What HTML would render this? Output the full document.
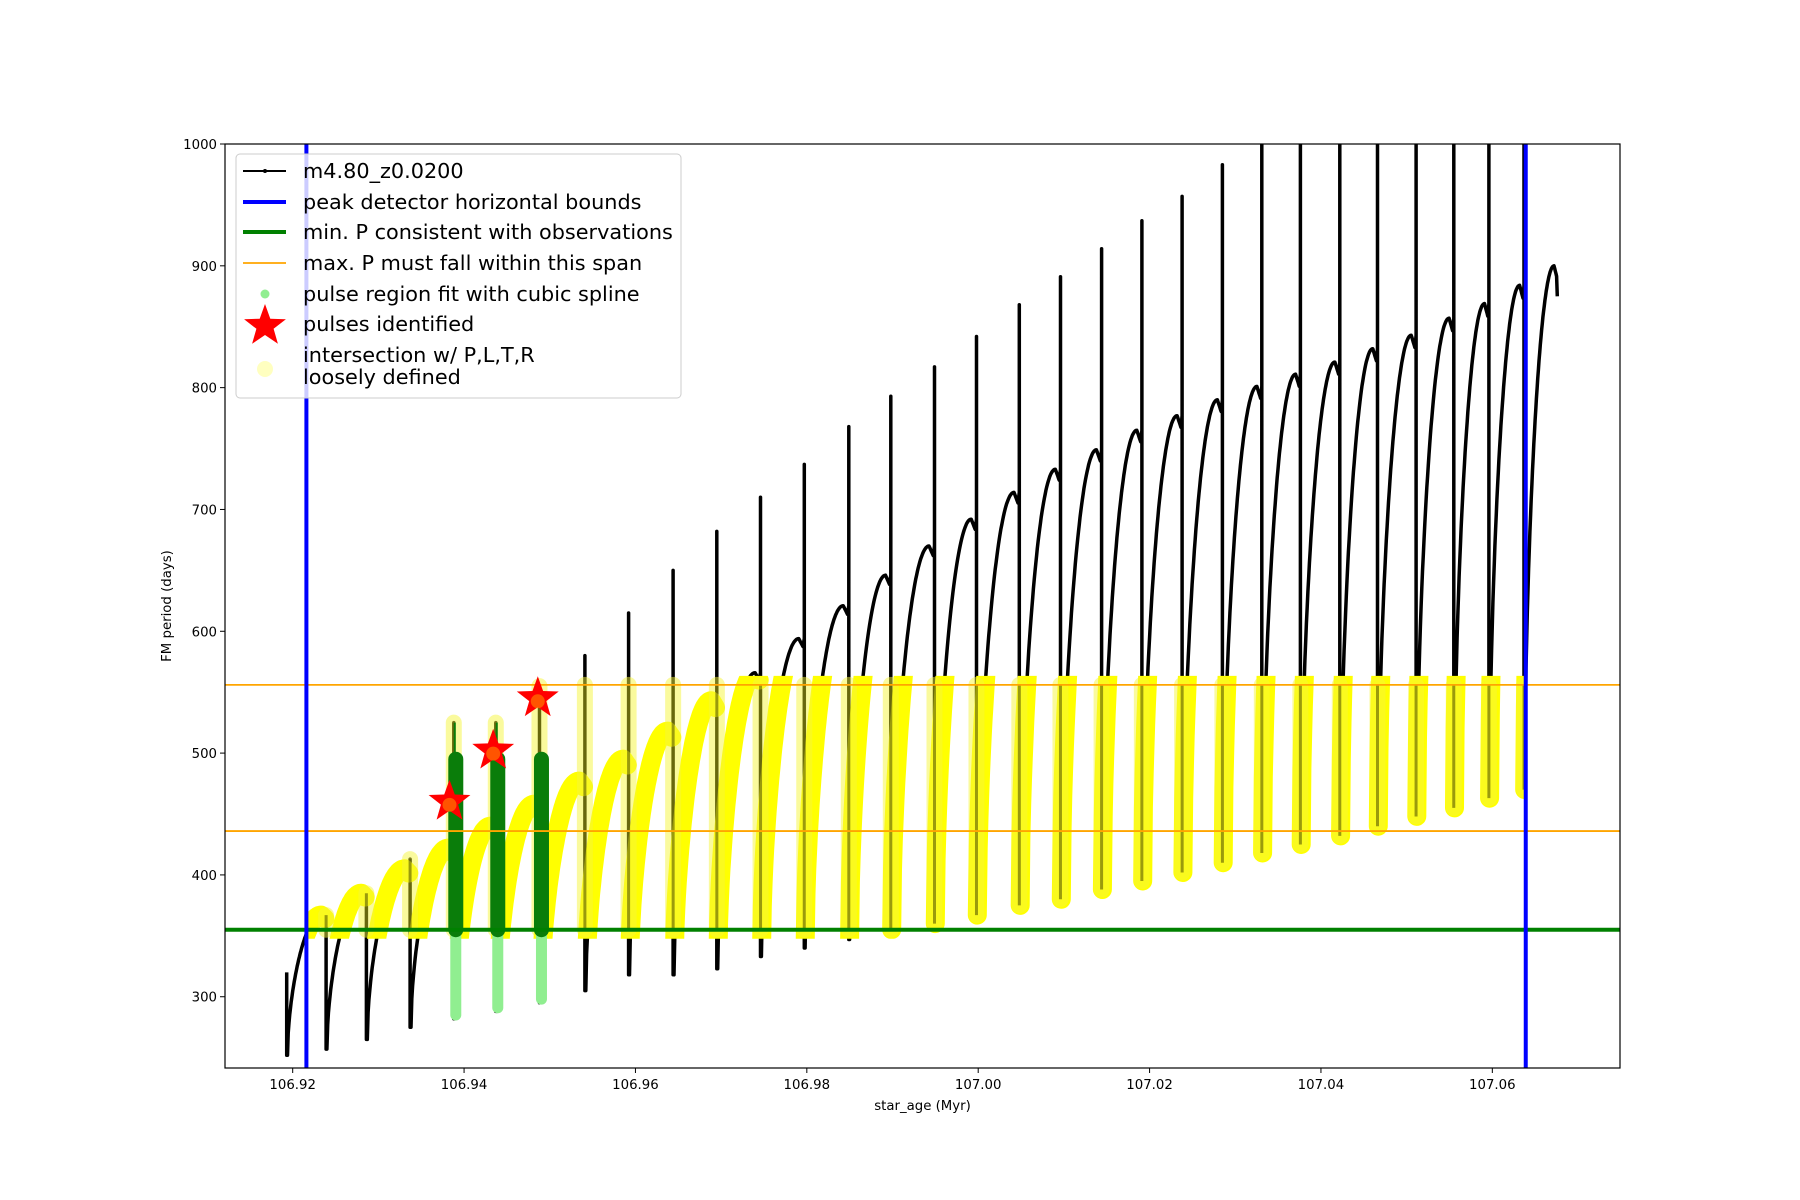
<!DOCTYPE html>
<html><head><meta charset="utf-8"><style>
html,body{margin:0;padding:0;background:#fff;}
svg{display:block;font-family:"DejaVu Sans","Liberation Sans",sans-serif;}
</style></head><body>
<svg id="chart" width="1800" height="1200" viewBox="0 0 1800 1200" xmlns="http://www.w3.org/2000/svg">
<defs><clipPath id="plotclip"><rect x="225" y="144" width="1395" height="924"/></clipPath>
<clipPath id="bandclip"><rect id="bandrect" x="0" y="0" width="0" height="0"/></clipPath></defs>
<rect x="0" y="0" width="1800" height="1200" fill="#fff"/>
<g id="plot" clip-path="url(#plotclip)"></g>
<g id="axes"></g>
<g id="legend"></g>
</svg>
<script>
const pulseAge=[106.9193,106.9239,106.9286,106.9337,106.9388,106.9437,106.9488,106.9541,106.9592,106.9644,106.9695,106.9746,106.9797,106.9849,106.9898,106.9949,106.9998,107.0048,107.0096,107.0144,107.0191,107.0238,107.0285,107.0331,107.0376,107.0422,107.0466,107.0511,107.0555,107.0596,107.0637];
const minP=[252,257,265,275,282,288,295,305,318,318,323,333,340,347,355,360,367,375,380,388,395,402,410,418,425,432,440,448,455,463,470];
const topP=[320,367,385,413,525,525,555,580,615,650,682,710,737,768,793,817,842,868,891,914,937,957,983,1100,1100,1100,1100,1100,1100,1100,1100];
const peakP=[367,385,405,422,440,458,477,495,518,543,566,594,621,646,670,692,714,733,749,765,777,790,801,811,821,832,843,857,869,884,900];
const endAge=107.0677;
const endP=875;
const greenPulses=[4,5,6];
const greenTop=[495,495,495];
const starAge=[106.9383,106.9434,106.9486];
const starP=[460,502,545];
const minBound=355;
const maxSpan=[436,556];
const bounds=[106.9216,107.0639];
const xTicks=[106.92,106.94,106.96,106.98,107.00,107.02,107.04,107.06];
const xTickLabels=["106.92","106.94","106.96","106.98","107.00","107.02","107.04","107.06"];
const yTicks=[300,400,500,600,700,800,900,1000];

const X0=106.9121,X1=107.0749,Y0=241.5,Y1=1000;
const L=225,R=1620,T=144,B=1068;
function X(t){return L+(t-X0)/(X1-X0)*(R-L);}
function Y(p){return B-(p-Y0)/(Y1-Y0)*(B-T);}
const NS="http://www.w3.org/2000/svg";
function mk(tag,attrs,parent){const e=document.createElementNS(NS,tag);for(const k in attrs)e.setAttribute(k,attrs[k]);parent.appendChild(e);return e;}
const plot=document.getElementById('plot'),axes=document.getElementById('axes'),legend=document.getElementById('legend');

function riseCurve(i){
  const t0=pulseAge[i], t1=(i+1<pulseAge.length)?pulseAge[i+1]:endAge;
  const pts=[];const n=50;
  for(let k=0;k<=n;k++){const u=k/n;
    let f;if(u<0.9)f=Math.pow(Math.sin(Math.PI/2*u/0.9),0.55);else f=1-(u-0.9)*0.25;
    let p=minP[i]+(peakP[i]-minP[i])*f;
    if(i===pulseAge.length-1&&k===n)p=endP;
    pts.push([X(t0+(t1-t0)*(0.02+u*0.95)),Y(p)]);}
  return pts;
}
let blackD='';
for(let i=0;i<pulseAge.length;i++){
  const x=X(pulseAge[i]);
  const prev=i>0?peakP[i-1]:topP[0];
  blackD+=(i===0?'M':'L')+x.toFixed(1)+','+Y(prev).toFixed(1)+' L'+x.toFixed(1)+','+Y(topP[i]).toFixed(1)+' L'+x.toFixed(1)+','+Y(minP[i]).toFixed(1);
  riseCurve(i).forEach(p=>{blackD+=' L'+p[0].toFixed(1)+','+p[1].toFixed(1);});
}
const bp=mk('path',{d:blackD,fill:'none',stroke:'#000','stroke-width':3.5,'stroke-linejoin':'round'},plot);



const br=document.getElementById('bandrect');
br.setAttribute('x',X(bounds[0]));br.setAttribute('width',X(bounds[1])-X(bounds[0]));
br.setAttribute('y',Y(maxSpan[1])-9);br.setAttribute('height',Y(minBound)-Y(maxSpan[1])+18);
const yg=mk('g',{'clip-path':'url(#bandclip)'},plot);


let yD='';
for(let i=0;i<pulseAge.length;i++){const pts=riseCurve(i);yD+='M'+pts.map(p=>p[0].toFixed(1)+','+p[1].toFixed(1)).join(' L');}
const yp=mk('path',{d:yD,fill:'none',stroke:'#ffff00','stroke-width':19,'stroke-linejoin':'round','stroke-linecap':'round'},yg);


for(let i=0;i<pulseAge.length;i++){
  const x=X(pulseAge[i]);
  const ln=mk('line',{x1:x,x2:x,y1:Y(Math.min(topP[i],maxSpan[1])),y2:Y(Math.max(minP[i],minBound)),stroke:'rgba(245,245,60,0.5)','stroke-width':16,'stroke-linecap':'round'},yg);
  
  
  const sl=mk('line',{x1:x,x2:x,y1:Y(Math.min(topP[i],maxSpan[1])),y2:Y(Math.max(minP[i],minBound)),stroke:'rgba(90,90,0,0.6)','stroke-width':3},yg);
  
  
}
greenPulses.forEach((i,j)=>{
  const x=X(pulseAge[i])+2;
  const lg=mk('line',{x1:x,x2:x,y1:Y(minBound),y2:Y(minP[i]+3),stroke:'#90ee90','stroke-width':11,'stroke-linecap':'round'},plot);
  
  
  const dg=mk('line',{x1:x,x2:x,y1:Y(greenTop[j]),y2:Y(minBound),stroke:'#0a7d0a','stroke-width':15,'stroke-linecap':'round'},plot);
  
  
  if(j<2){const sp=mk('line',{x1:x-1,x2:x-1,y1:Y(525),y2:Y(greenTop[j]),stroke:'#0a7d0a','stroke-width':2},plot);
    
    }
});
const gl=mk('line',{x1:L,x2:R,y1:Y(minBound),y2:Y(minBound),stroke:'#008000','stroke-width':4},plot);


maxSpan.forEach((v,k)=>{const o=mk('line',{x1:L,x2:R,y1:Y(v),y2:Y(v),stroke:'#ffa500','stroke-width':1.8},plot);
  
  });
bounds.forEach((v,k)=>{const b=mk('line',{x1:X(v),x2:X(v),y1:T,y2:B,stroke:'#0000ff','stroke-width':4},plot);
  
  });
function starPath(cx,cy,ro,ri){let d='';for(let k=0;k<10;k++){const r=k%2?ri:ro;const a=-Math.PI/2+k*Math.PI/5;d+=(k?'L':'M')+(cx+r*Math.cos(a)).toFixed(1)+','+(cy+r*Math.sin(a)).toFixed(1);}return d+'Z';}
starAge.forEach((t,k)=>{const s=mk('path',{d:starPath(X(t),Y(starP[k]),22,9),fill:'#ff0000'},plot);
  
  
  const c=mk('circle',{cx:X(t),cy:Y(starP[k])+3,r:7,fill:'rgba(255,140,0,0.6)'},plot);
  
  });
const fr=mk('rect',{x:L,y:T,width:R-L,height:B-T,fill:'none',stroke:'#000','stroke-width':1.2},axes);


xTicks.forEach((v,k)=>{const x=X(v);
  mk('line',{x1:x,x2:x,y1:B,y2:B+5,stroke:'#000','stroke-width':1},axes);
  const tx=mk('text',{x:x,y:B+21,'font-size':13.3,'text-anchor':'middle',fill:'#000'},axes);tx.textContent=xTickLabels[k];
  
  });
yTicks.forEach(v=>{const y=Y(v);
  mk('line',{x1:L-5,x2:L,y1:y,y2:y,stroke:'#000','stroke-width':1},axes);
  const tx=mk('text',{x:L-8,y:y+5,'font-size':13.3,'text-anchor':'end',fill:'#000'},axes);tx.textContent=String(v);
  
  });
const xl=mk('text',{x:(L+R)/2,y:1110,'font-size':13.3,'text-anchor':'middle'},axes);xl.textContent='star_age (Myr)';


const yl=mk('text',{x:0,y:0,'font-size':13.3,'text-anchor':'middle',transform:'translate(171,606) rotate(-90)'},axes);yl.textContent='FM period (days)';


const lb=mk('rect',{x:236,y:154,width:445,height:244,rx:4,fill:'rgba(255,255,255,0.8)',stroke:'#ccc','stroke-width':1},legend);


const rows=[['m4.80_z0.0200',171],['peak detector horizontal bounds',202],['min. P consistent with observations',232],['max. P must fall within this span',263],['pulse region fit with cubic spline',294],['pulses identified',324]];
rows.forEach((r,k)=>{const t=mk('text',{x:303,y:r[1]+7,'font-size':20.8,fill:'#000'},legend);t.textContent=r[0];
  
  });
mk('line',{x1:243,x2:286,y1:171,y2:171,stroke:'#000','stroke-width':2},legend);
mk('circle',{cx:265,cy:171,r:2,fill:'#000'},legend);
mk('line',{x1:243,x2:286,y1:202,y2:202,stroke:'#0000ff','stroke-width':4},legend);
mk('line',{x1:243,x2:286,y1:232,y2:232,stroke:'#008000','stroke-width':4},legend);
mk('line',{x1:243,x2:286,y1:263,y2:263,stroke:'#ffa500','stroke-width':1.8},legend);
mk('circle',{cx:265,cy:294,r:4.5,fill:'#90ee90'},legend);
mk('path',{d:starPath(265,326,22,9),fill:'#ff0000'},legend);
mk('circle',{cx:265,cy:369,r:8,fill:'rgba(255,255,150,0.6)'},legend);
const t7=mk('text',{x:303,y:362,'font-size':20.8},legend);t7.textContent='intersection w/ P,L,T,R';


const t8=mk('text',{x:303,y:384,'font-size':20.8},legend);t8.textContent='loosely defined';


</script>
</body></html>
